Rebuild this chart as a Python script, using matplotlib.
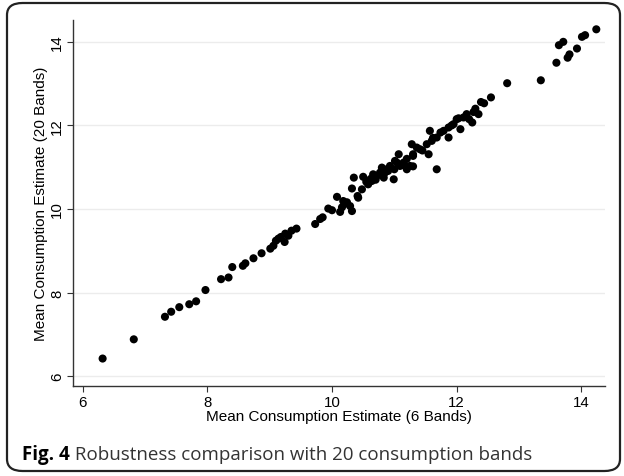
import matplotlib
matplotlib.use("Agg")
import matplotlib.pyplot as plt
from matplotlib.patches import FancyBboxPatch

# mean consumption estimates
est_6_bands = [
    6.32, 6.82, 7.32, 7.42, 7.55, 7.71, 7.82, 7.97,
    8.22, 8.34, 8.40, 8.57, 8.61, 8.74, 8.87, 9.01,
    9.06, 9.10, 9.14, 9.24, 9.25, 9.35, 9.43,
    9.73, 9.81, 9.85, 9.94, 10.00, 10.08, 10.13, 10.16,
    10.24, 10.29, 10.32, 10.35, 10.41, 10.18, 10.32,
    10.42, 10.48, 10.50, 10.58, 10.64, 10.66, 10.72, 10.77,
    10.80, 10.83, 10.85, 10.93, 10.99, 11.01, 11.07, 11.09,
    11.15, 11.20, 11.25, 11.30, 11.28, 11.36, 11.41, 11.52,
    11.55, 11.57, 11.60, 11.68, 11.68, 11.74, 11.79, 11.87,
    11.87, 11.95, 12.00, 12.06, 12.11, 12.16, 12.25, 12.27,
    12.35, 12.39, 12.44, 12.55, 12.81, 13.35, 13.60, 13.64,
    13.71, 13.78, 13.81, 13.93, 14.01, 14.06, 14.24,
    10.90, 11.12, 11.00, 10.70, 11.30, 11.45, 11.20, 12.03, 12.20, 11.30,
    9.18, 9.30, 10.20, 10.55, 10.62, 10.88, 11.05, 11.62, 11.92, 12.30,
]
est_20_bands = [
    6.42, 6.88, 7.42, 7.54, 7.65, 7.72, 7.79, 8.06,
    8.32, 8.36, 8.61, 8.64, 8.70, 8.82, 8.94, 9.05,
    9.12, 9.24, 9.29, 9.21, 9.41, 9.48, 9.53,
    9.64, 9.76, 9.80, 10.01, 9.97, 10.29, 9.93, 10.04,
    10.16, 10.07, 10.49, 10.75, 10.31, 10.19, 9.95,
    10.27, 10.47, 10.77, 10.59, 10.67, 10.83, 10.79, 10.87,
    10.99, 10.75, 10.87, 11.03, 10.71, 11.15, 11.31, 11.03,
    11.11, 10.95, 11.03, 11.31, 11.55, 11.47, 11.43, 11.55,
    11.31, 11.87, 11.63, 10.95, 11.71, 11.83, 11.87, 11.71,
    11.95, 12.03, 12.15, 11.91, 12.19, 12.27, 12.07, 12.32,
    12.27, 12.56, 12.53, 12.67, 13.01, 13.08, 13.50, 13.92,
    14.00, 13.62, 13.70, 13.84, 14.12, 14.16, 14.30,
    10.91, 11.05, 10.95, 10.70, 11.02, 11.40, 11.20, 12.17, 12.15, 11.27,
    9.33, 9.36, 10.12, 10.65, 10.72, 10.95, 11.10, 11.70, 12.00, 12.40,
]
ticks = [6, 8, 10, 12, 14]

fig = plt.figure(figsize=(6.24, 4.77), dpi=100)
ax = fig.add_axes([0.1175, 0.1893, 0.8521, 0.7673])

ax.scatter(est_6_bands, est_20_bands, s=34, color="black", edgecolors="none", zorder=3)

ax.set_xlim(5.85, 14.38)
ax.set_ylim(5.77, 14.53)
ax.set_xticks(ticks)
ax.set_yticks(ticks)
ax.grid(axis="y", color="#ececec", lw=1)
ax.set_axisbelow(True)

for s in ["top", "right"]:
    ax.spines[s].set_visible(False)
for s in ["left", "bottom"]:
    ax.spines[s].set_color("#333333")
    ax.spines[s].set_linewidth(1)

font = "Liberation Sans"
ax.tick_params(length=4.5, width=0.8, color="#333333", labelsize=10.8, pad=2)
for lab in ax.get_xticklabels():
    lab.set_family(font)
for lab in ax.get_yticklabels():
    lab.set_family(font)
    lab.set_rotation(90)
    lab.set_va("center")
ax.set_xlabel("Mean Consumption Estimate (6 Bands)", family=font, fontsize=11, labelpad=0)
ax.set_ylabel("Mean Consumption Estimate (20 Bands)", family=font, fontsize=11, labelpad=2)

# rounded frame around figure + caption
box = FancyBboxPatch((7 / 624, 5 / 477), 613 / 624, 468 / 477,
                     boxstyle="round,pad=0,rounding_size=0.025",
                     transform=fig.transFigure, fill=False,
                     edgecolor="#222222", lw=1.6, clip_on=False)
fig.patches.append(box)

cap = fig.text(22 / 624, 1 - 455 / 477, "Fig. 4", family="Open Sans",
               fontweight="bold", fontsize=13.5, va="center")
fig.canvas.draw()
ax.annotate(" Robustness comparison with 20 consumption bands", xy=(1, 0.5),
            xycoords=cap, va="center", family="Open Sans", fontsize=13.5,
            color="#333333", annotation_clip=False)

fig.savefig("out.png", dpi=100)
